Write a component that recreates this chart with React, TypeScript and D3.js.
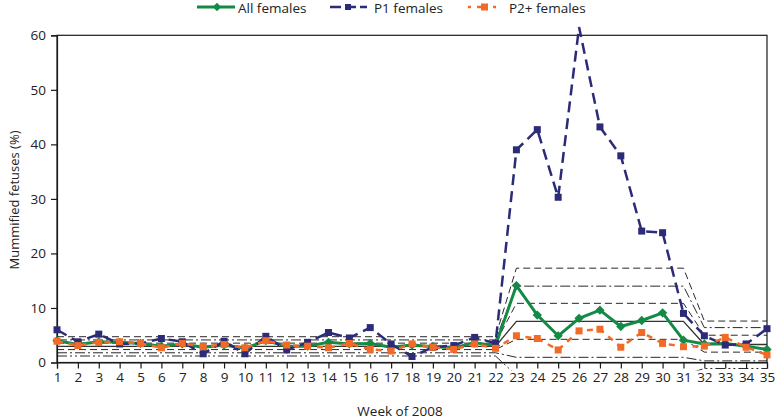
import React, { useEffect, useRef } from "react";
import * as d3 from "d3";

// week numbers on the x axis
const weeks = [1, 2, 3, 4, 5, 6, 7, 8, 9, 10, 11, 12, 13, 14, 15, 16, 17, 18, 19, 20, 21, 22, 23, 24, 25, 26, 27, 28, 29, 30, 31, 32, 33, 34, 35];

const allFemales = [4.0, 3.3, 3.8, 3.7, 3.5, 3.0, 3.4, 2.8, 3.2, 2.6, 4.0, 3.0, 3.0, 3.7, 3.4, 3.5, 2.8, 3.2, 2.9, 2.7, 3.6, 3.1,
    14.1, 8.7, 4.9, 8.1, 9.6, 6.6, 7.7, 9.1, 4.1, 3.4, 3.5, 3.0, 2.4];
const p1Females = [6.0, 3.8, 5.2, 3.4, 3.5, 4.4, 3.8, 1.6, 3.9, 1.6, 4.8, 2.3, 3.7, 5.5, 4.5, 6.4, 3.4, 1.1, 2.8, 3.1, 4.6, 3.5,
    39.0, 42.7, 30.3, 61.5, 43.2, 37.9, 24.1, 23.8, 9.0, 4.9, 3.2, 3.4, 6.2];
const p2Females = [3.9, 3.1, 3.7, 3.8, 3.5, 2.7, 3.5, 2.9, 3.3, 2.7, 4.0, 3.2, 3.0, 2.7, 3.5, 2.4, 2.1, 3.4, 2.8, 2.4, 3.4, 2.6,
    4.9, 4.4, 2.3, 5.8, 6.1, 2.8, 5.5, 3.5, 2.9, 3.0, 4.6, 2.8, 1.4];

// control limits per period: +3SD, +2SD, +1SD, mean, -1SD, -2SD, -3SD
const periods = [[1, 22], [23, 31], [32, 35]];
const limitsPeriod1 = [4.73, 4.14, 3.55, 2.96, 2.37, 1.78, 1.19];
const limitsPeriod2 = [17.3, 14.0, 10.85, 7.55, 4.25, 0.95, -2.35];
const limitsPeriod3 = [7.6, 6.4, 5.0, 3.3, 1.9, 0.3, -1.1];
const limitDash = ["7,4", "10,3,2,3", "7,4", null, "7,4", "10,3,2,3", "10,3,2,3,2,3"];

const yTicks = [0, 10, 20, 30, 40, 50, 60];

const GREEN = "#138a45";
const NAVY = "#2b2b77";
const ORANGE = "#f26a27";
const FONT = "'Open Sans', sans-serif";

const App = () => {
    const svgRef = useRef(null);

    useEffect(() => {
        const width = 777;
        const height = 419;
        const left = 57, right = 767, top = 35.3, bottom = 362.5;

        const svg = d3.select(svgRef.current)
            .attr("width", width)
            .attr("height", height)
            .style("font-family", FONT);
        svg.selectAll("*").remove();

        const x = d3.scaleLinear().domain([1, 35]).range([left, right]);
        const y = d3.scaleLinear().domain([0, 60]).range([bottom, top]);

        svg.append("defs").append("clipPath").attr("id", "lim-clip")
            .append("rect").attr("x", 0).attr("y", 0).attr("width", width).attr("height", bottom + 8);

        // frame
        svg.append("rect")
            .attr("x", left).attr("y", top)
            .attr("width", right - left).attr("height", bottom - top)
            .attr("fill", "none").attr("stroke", "#1a1a1a").attr("stroke-width", 1.2);

        // y axis
        const yAxis = svg.append("g")
            .attr("transform", `translate(${left},0)`)
            .call(d3.axisLeft(y).tickValues(yTicks).tickSize(6).tickPadding(5));
        yAxis.select(".domain").attr("stroke", "#1a1a1a").attr("stroke-width", 1.2);
        yAxis.selectAll(".tick line").attr("stroke", "#1a1a1a").attr("stroke-width", 1.2);
        yAxis.selectAll("text").attr("font-size", 13.5).attr("font-family", FONT).attr("fill", "#222");

        // x axis
        const xAxis = svg.append("g")
            .attr("transform", `translate(0,${bottom})`)
            .call(d3.axisBottom(x).tickValues(weeks).tickFormat(d3.format("d")).tickSize(6).tickPadding(4));
        xAxis.select(".domain").attr("stroke", "#1a1a1a").attr("stroke-width", 1.2);
        xAxis.selectAll(".tick line").attr("stroke", "#1a1a1a").attr("stroke-width", 1.2);
        xAxis.selectAll("text").attr("font-size", 13.5).attr("font-family", FONT).attr("fill", "#222");

        // control limit lines
        const limitLine = d3.line<[number, number]>().x((d) => x(d[0])).y((d) => y(d[1]));
        const limits = [limitsPeriod1, limitsPeriod2, limitsPeriod3];
        const limG = svg.append("g").attr("clip-path", "url(#lim-clip)");
        limitDash.forEach((dash, i) => {
            const pts: [number, number][] = [];
            periods.forEach((p, j) => {
                pts.push([p[0], limits[j][i]]);
                pts.push([p[1], limits[j][i]]);
            });
            limG.append("path")
                .attr("d", limitLine(pts))
                .attr("fill", "none")
                .attr("stroke", i === 3 ? "#333" : "#111")
                .attr("stroke-width", i === 3 ? 1.3 : 0.9)
                .attr("stroke-dasharray", dash);
        });

        const seriesLine = d3.line<number>().x((d, i) => x(weeks[i])).y((d) => y(d));

        // All females
        svg.append("path")
            .attr("d", seriesLine(allFemales))
            .attr("fill", "none").attr("stroke", GREEN).attr("stroke-width", 3)
            .attr("stroke-linejoin", "round");
        svg.append("g").selectAll("path")
            .data(allFemales)
            .enter()
            .append("path")
            .attr("d", d3.symbol(d3.symbolDiamond2, 55)())
            .attr("transform", (d, i) => `translate(${x(weeks[i])},${y(d)})`)
            .attr("fill", GREEN);

        // P1 females
        svg.append("path")
            .attr("d", seriesLine(p1Females))
            .attr("fill", "none").attr("stroke", NAVY).attr("stroke-width", 2.5)
            .attr("stroke-dasharray", "11,6");
        svg.append("g").selectAll("rect")
            .data(p1Females.map((v, i) => ({ v, w: weeks[i] })).filter((d) => d.v <= 60))
            .enter()
            .append("rect")
            .attr("x", (d) => x(d.w) - 3.5)
            .attr("y", (d) => y(d.v) - 3.5)
            .attr("width", 7).attr("height", 7)
            .attr("fill", NAVY);

        // P2+ females
        svg.append("path")
            .attr("d", seriesLine(p2Females))
            .attr("fill", "none").attr("stroke", ORANGE).attr("stroke-width", 2.5)
            .attr("stroke-dasharray", "6,6");
        svg.append("g").selectAll("rect")
            .data(p2Females)
            .enter()
            .append("rect")
            .attr("x", (d, i) => x(weeks[i]) - 3.5)
            .attr("y", (d) => y(d) - 3.5)
            .attr("width", 7).attr("height", 7)
            .attr("fill", ORANGE);

        // axis titles
        svg.append("text")
            .attr("x", 400).attr("y", 416)
            .attr("text-anchor", "middle")
            .attr("font-size", 13.5).attr("fill", "#222")
            .text("Week of 2008");
        svg.append("text")
            .attr("transform", `translate(19,200) rotate(-90)`)
            .attr("text-anchor", "middle")
            .attr("font-size", 13).attr("fill", "#222")
            .text("Mummified fetuses (%)");

        // legend
        const ly = 7;
        const legend = svg.append("g");
        const lg1 = legend.append("g");
        lg1.append("line").attr("x1", 197).attr("x2", 235).attr("y1", ly).attr("y2", ly)
            .attr("stroke", GREEN).attr("stroke-width", 3);
        lg1.append("path").attr("d", d3.symbol(d3.symbolDiamond2, 45)())
            .attr("transform", `translate(217,${ly})`).attr("fill", GREEN);
        lg1.append("text").attr("x", 238).attr("y", ly + 6).attr("font-size", 13.5).attr("fill", "#222").text("All females");

        const lg2 = legend.append("g");
        lg2.append("line").attr("x1", 330).attr("x2", 367).attr("y1", ly).attr("y2", ly)
            .attr("stroke", NAVY).attr("stroke-width", 2.5).attr("stroke-dasharray", "11,4");
        lg2.append("rect").attr("x", 345).attr("y", ly - 3).attr("width", 6).attr("height", 6).attr("fill", NAVY);
        lg2.append("text").attr("x", 374).attr("y", ly + 6).attr("font-size", 13.5).attr("fill", "#222").text("P1 females");

        const lg3 = legend.append("g");
        lg3.append("line").attr("x1", 468).attr("x2", 501).attr("y1", ly).attr("y2", ly)
            .attr("stroke", ORANGE).attr("stroke-width", 2.5).attr("stroke-dasharray", "3,6,10,6");
        lg3.append("rect").attr("x", 481).attr("y", ly - 3.5).attr("width", 7).attr("height", 7).attr("fill", ORANGE);
        lg3.append("text").attr("x", 509).attr("y", ly + 6).attr("font-size", 13.5).attr("fill", "#222").text("P2+ females");
    }, []);

    return (
        <svg ref={svgRef} style={{ position: "absolute", left: 0, top: 0, background: "white" }}></svg>
    );
};

export default App;
